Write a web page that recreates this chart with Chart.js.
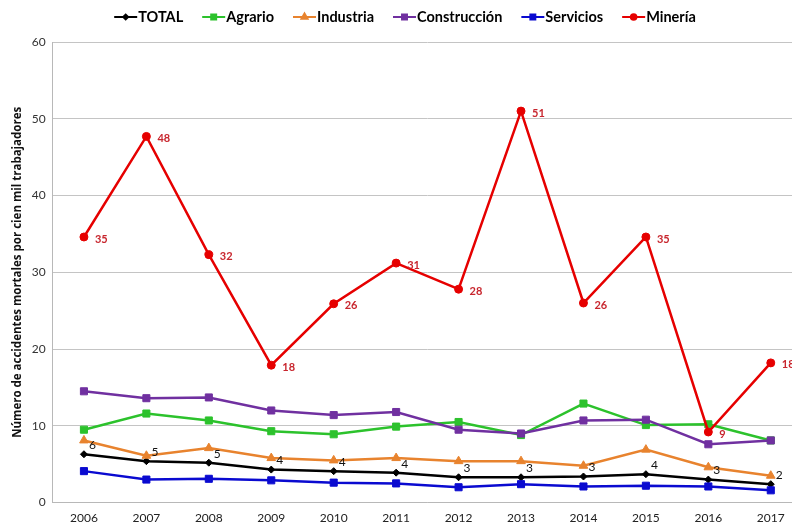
<!DOCTYPE html>
<html>
<head>
<meta charset="utf-8">
<script src="https://cdn.jsdelivr.net/npm/chart.js@4.4.1/dist/chart.umd.min.js"></script>
<style>
  html, body { margin: 0; padding: 0; background: #fff; overflow: hidden; }
  #wrap { width: 810px; height: 533px; }
</style>
</head>
<body>
<div id="wrap"><canvas id="chart" width="810" height="533"></canvas></div>
<script>
var years = ["2006", "2007", "2008", "2009", "2010", "2011", "2012", "2013", "2014", "2015", "2016", "2017"];
var yTicks = [0, 10, 20, 30, 40, 50, 60];

var total        = [6.3, 5.4, 5.2, 4.3, 4.1, 3.9, 3.3, 3.3, 3.4, 3.7, 3.0, 2.4];
var agrario      = [9.5, 11.6, 10.7, 9.3, 8.9, 9.9, 10.5, 8.8, 12.9, 10.1, 10.2, 8.1];
var industria    = [8.1, 6.1, 7.1, 5.8, 5.5, 5.8, 5.4, 5.4, 4.8, 6.9, 4.6, 3.5];
var construccion = [14.5, 13.6, 13.7, 12.0, 11.4, 11.8, 9.5, 9.0, 10.7, 10.8, 7.6, 8.1];
var servicios    = [4.1, 3.0, 3.1, 2.9, 2.6, 2.5, 2.0, 2.4, 2.1, 2.2, 2.1, 1.6];
var mineria      = [34.6, 47.7, 32.3, 17.9, 25.9, 31.2, 27.8, 51.0, 26.0, 34.6, 9.2, 18.2];

var FONT = "Lato, 'Open Sans', sans-serif";

function series(label, data, color, style, radius) {
    return {
        label: label,
        data: data,
        borderColor: color,
        backgroundColor: color,
        borderWidth: 2.5,
        pointStyle: style,
        pointRadius: radius,
        pointBorderWidth: 1,
        tension: 0
    };
}

var sets = [
    series("TOTAL", total, "#000000", "rectRot", 3.5),
    series("Agrario", agrario, "#2cc22c", "rect", 5),
    series("Industria", industria, "#e8832e", "triangle", 5),
    series("Construcción", construccion, "#7030a0", "rect", 5),
    series("Servicios", servicios, "#0a0ad0", "rect", 5),
    series("Minería", mineria, "#e60000", "circle", 4)
];
// later series paint over earlier ones
sets.forEach(function(ds, i) { ds.order = sets.length - i; });

// rounded value next to each point
sets[0].valueLabels = { color: "#111", font: "12px " + FONT, dx: 5, dy: -9 };
sets[5].valueLabels = { color: "#c8262e", font: "bold 11px " + FONT, dx: 11, dy: 2 };

var valueLabelPlugin = {
    id: "valueLabels",
    afterDatasetsDraw: function(chart) {
        var ctx = chart.ctx;
        chart.data.datasets.forEach(function(ds, i) {
            if (!ds.valueLabels) return;
            var meta = chart.getDatasetMeta(i);
            ctx.save();
            ctx.font = ds.valueLabels.font;
            ctx.fillStyle = ds.valueLabels.color;
            ctx.textAlign = "left";
            ctx.textBaseline = "middle";
            meta.data.forEach(function(pt, j) {
                ctx.fillText(Math.round(ds.data[j]), pt.x + ds.valueLabels.dx, pt.y + ds.valueLabels.dy);
            });
            ctx.restore();
        });
    }
};

// legend: short line with a small marker across it, then the name
var lineLegendPlugin = {
    id: "lineLegend",
    afterDraw: function(chart) {
        var ctx = chart.ctx;
        var lineW = 23, gap = 1, itemGap = 19, y = 17;
        ctx.save();
        ctx.font = "bold 14.5px " + FONT;
        var widths = chart.data.datasets.map(function(ds) {
            return lineW + gap + ctx.measureText(ds.label).width;
        });
        var full = widths.reduce(function(a, b) { return a + b; }, 0) + itemGap * (widths.length - 1);
        var x = chart.width / 2 - full / 2;
        chart.data.datasets.forEach(function(ds, i) {
            ctx.strokeStyle = ds.borderColor;
            ctx.lineWidth = 2;
            ctx.beginPath();
            ctx.moveTo(x, y);
            ctx.lineTo(x + lineW, y);
            ctx.stroke();
            ctx.fillStyle = ds.backgroundColor;
            Chart.helpers.drawPoint(ctx, {
                pointStyle: ds.pointStyle,
                radius: ds.pointRadius * 0.7,
                borderWidth: 1,
                rotation: 0
            }, x + lineW / 2, y);
            ctx.fillStyle = "#000";
            ctx.textAlign = "left";
            ctx.textBaseline = "middle";
            ctx.fillText(ds.label, x + lineW + gap, y);
            x += widths[i] + itemGap;
        });
        ctx.restore();
    }
};

new Chart(document.getElementById("chart"), {
    type: "line",
    data: { labels: years, datasets: sets },
    plugins: [valueLabelPlugin, lineLegendPlugin],
    options: {
        responsive: false,
        animation: false,
        layout: { padding: { top: 42, right: 8, left: 11, bottom: 0 } },
        plugins: {
            legend: { display: false },
            tooltip: { enabled: false }
        },
        scales: {
            x: {
                offset: true,
                grid: { display: false, drawTicks: false },
                border: { color: "#b8b8b8", width: 1 },
                ticks: { color: "#222", font: { family: FONT, size: 12 }, padding: 8 }
            },
            y: {
                min: 0,
                max: 60,
                afterBuildTicks: function(axis) {
                    axis.ticks = yTicks.map(function(v) { return { value: v }; });
                },
                grid: { color: "#c4c4c4", lineWidth: 1, drawTicks: false },
                border: { color: "#b8b8b8", width: 1 },
                ticks: { color: "#333", font: { family: FONT, size: 12 }, padding: 7 },
                title: {
                    display: true,
                    text: "Número de accidentes mortales por cien mil trabajadores",
                    color: "#111",
                    font: { family: "'Open Sans', Lato, sans-serif", size: 11.5, weight: "bold" },
                    padding: { top: 0, bottom: 0 }
                }
            }
        }
    }
});
</script>
</body>
</html>
